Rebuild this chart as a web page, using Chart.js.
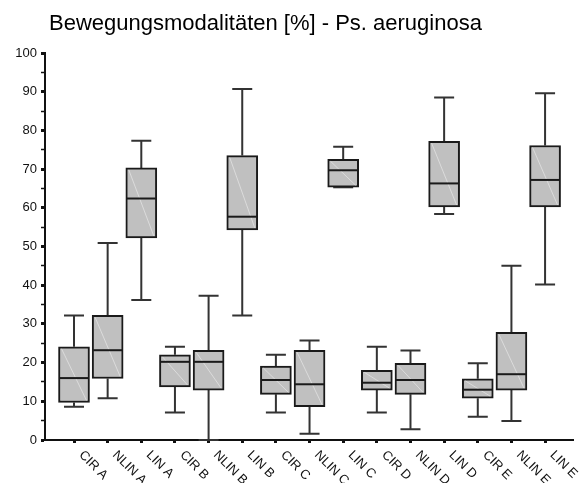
<!DOCTYPE html>
<html>
<head>
<meta charset="utf-8">
<script src="https://cdn.jsdelivr.net/npm/chart.js@4.4.1/dist/chart.umd.min.js"></script>
<style>
  html, body { margin: 0; padding: 0; background: #ffffff; }
  #wrap { width: 581px; height: 483px; position: relative; }
</style>
</head>
<body>
<div id="wrap"><canvas id="c" width="581" height="483"></canvas></div>
<script>
// Movement modalities per strain group (percent)
const titleText = 'Bewegungsmodalitäten [%] - Ps. aeruginosa';
const categories = ['CIR A', 'NLIN A', 'LIN A', 'CIR B', 'NLIN B', 'LIN B', 'CIR C', 'NLIN C', 'LIN C', 'CIR D', 'NLIN D', 'LIN D', 'CIR E', 'NLIN E', 'LIN E'];
const whiskerLow  = [8.6, 10.8, 36.2,  7.1,  0.0, 32.2,  7.1,  1.6, 65.3,  7.1,  2.8, 58.4,  6.0,  4.9, 40.2];
const quartile1   = [9.7, 15.9, 52.2, 13.7, 12.9, 54.3, 11.8,  8.6, 65.3, 12.9, 11.8, 60.2, 10.8, 12.9, 60.2];
const medianVals  = [16.0, 23.2, 62.4, 20.2, 20.2, 57.7, 15.5, 14.4, 69.7, 14.8, 15.5, 66.3, 13.0, 17.0, 67.2];
const quartile3   = [24.1, 32.2, 70.3, 22.0, 23.2, 73.5, 19.1, 23.2, 72.5, 18.0, 19.8, 77.2, 15.8, 27.8, 76.1];
const whiskerHigh = [32.2, 50.9, 77.3, 24.1, 37.3, 90.7, 22.0, 25.7, 75.8, 24.1, 23.1, 88.5, 19.8, 45.0, 89.6];
const yMin = 0, yMax = 100, yStep = 5, yLabelStep = 10;

const FONT = '"Liberation Sans", Arial, sans-serif';
const BOX_HALF = 14.5;

// Whiskers with caps, drawn behind the boxes; medians drawn on top
const whiskerPlugin = {
  id: 'whiskers',
  beforeDatasetsDraw(chart) {
    const { ctx, scales: { x, y } } = chart;
    ctx.save();
    ctx.strokeStyle = '#333333';
    ctx.lineWidth = 2;
    categories.forEach((_, i) => {
      const px = x.getPixelForValue(i);
      const segs = [[quartile3[i], whiskerHigh[i]], [quartile1[i], whiskerLow[i]]];
      segs.forEach(([from, to]) => {
        const y0 = y.getPixelForValue(from), y1 = y.getPixelForValue(to);
        ctx.beginPath();
        ctx.moveTo(px, y0); ctx.lineTo(px, y1);
        ctx.moveTo(px - 10, y1); ctx.lineTo(px + 10, y1);
        ctx.stroke();
      });
    });
    ctx.restore();
  },
  afterDatasetsDraw(chart) {
    const { ctx, scales: { x, y } } = chart;
    ctx.save();
    categories.forEach((_, i) => {
      const px = x.getPixelForValue(i);
      const top = y.getPixelForValue(quartile3[i]);
      const bot = y.getPixelForValue(quartile1[i]);
      // faint seam across the box fill
      ctx.strokeStyle = 'rgba(235,235,235,0.8)';
      ctx.lineWidth = 0.8;
      ctx.beginPath();
      ctx.moveTo(px - BOX_HALF + 2, top + 2);
      ctx.lineTo(px + BOX_HALF - 2, bot - 2);
      ctx.stroke();
      // median
      const py = y.getPixelForValue(medianVals[i]);
      ctx.strokeStyle = '#1a1a1a';
      ctx.lineWidth = 2;
      ctx.beginPath();
      ctx.moveTo(px - BOX_HALF, py); ctx.lineTo(px + BOX_HALF, py);
      ctx.stroke();
    });
    ctx.restore();
  }
};

// Slanted category labels and the title
const labelPlugin = {
  id: 'labels',
  afterDraw(chart) {
    const { ctx, scales: { x } } = chart;
    ctx.save();
    ctx.font = '13px ' + FONT;
    ctx.fillStyle = '#111111';
    ctx.textAlign = 'left';
    ctx.textBaseline = 'middle';
    categories.forEach((lab, i) => {
      const px = x.getPixelForValue(i);
      ctx.save();
      ctx.translate(px + 7, x.top + 13);
      ctx.rotate(Math.PI / 4);
      ctx.fillText(lab, 0, 0);
      ctx.restore();
    });
    ctx.font = '22px ' + FONT;
    ctx.fillStyle = '#000000';
    ctx.textBaseline = 'alphabetic';
    ctx.fillText(titleText, 49, 30);
    ctx.restore();
  }
};

new Chart(document.getElementById('c'), {
  type: 'bar',
  data: {
    datasets: [{
      data: categories.map((_, i) => ({ x: i, y: [quartile1[i], quartile3[i]] })),
      backgroundColor: '#c0c0c0',
      borderColor: '#1a1a1a',
      borderWidth: 2,
      borderSkipped: false,
      barThickness: 31
    }]
  },
  options: {
    responsive: false,
    animation: false,
    devicePixelRatio: 1,
    layout: { padding: { top: 53, right: 8, bottom: 0, left: 0 } },
    plugins: { legend: { display: false }, tooltip: { enabled: false }, title: { display: false } },
    scales: {
      x: {
        type: 'linear',
        offset: false,
        min: -0.862,
        max: 14.83,
        afterBuildTicks(scale) { scale.ticks = categories.map((_, i) => ({ value: i })); },
        afterFit(scale) { scale.height = 43; },
        ticks: { display: false },
        grid: { display: true, offset: false, drawOnChartArea: false, drawTicks: true, tickLength: 3, tickWidth: 3, tickColor: '#111111' },
        border: { display: true, color: '#111111', width: 2 }
      },
      y: {
        min: yMin,
        max: yMax,
        afterFit(scale) { scale.width = 45; },
        ticks: {
          stepSize: yStep,
          padding: 4,
          color: '#111111',
          font: { family: FONT, size: 13 },
          callback: (v) => (v % yLabelStep === 0 ? String(v) : '')
        },
        grid: {
          display: true, drawOnChartArea: false, drawTicks: true, tickLength: 4,
          tickWidth: (ctx) => (ctx.tick && ctx.tick.value % yLabelStep === 0 ? 3 : 1.5),
          tickColor: '#111111'
        },
        border: { display: true, color: '#111111', width: 2 }
      }
    }
  },
  plugins: [whiskerPlugin, labelPlugin]
});
</script>
</body>
</html>
